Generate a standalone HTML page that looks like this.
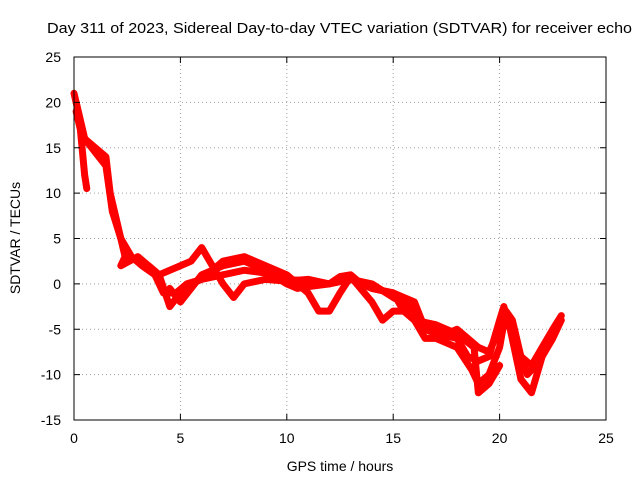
<!DOCTYPE html>
<html><head><meta charset="utf-8"><style>
body{margin:0;background:#fff}
svg{display:block;font-family:"Liberation Sans",sans-serif}
</style></head><body>
<svg id="c" width="640" height="480">
<text x="47" y="33" font-size="15" textLength="585" lengthAdjust="spacingAndGlyphs">Day 311 of 2023, Sidereal Day-to-day VTEC variation (SDTVAR) for receiver echo</text>
<text x="340" y="471" font-size="14" text-anchor="middle">GPS time / hours</text>
<text transform="translate(20,238) rotate(-90)" font-size="14" text-anchor="middle">SDTVAR / TECUs</text>
<g id="grid"></g><g id="series"></g><g id="axes"></g>
</svg>
<script>
const xTicks=[0,5,10,15,20,25];
const yTicks=[-15,-10,-5,0,5,10,15,20,25];
const trackA=[[0,21],[0.5,16],[1,14.5],[1.5,13],[1.8,8],[2.2,5],[2.7,3],[3.2,2],[3.8,1],[4.2,-1],[4.8,-1],[5.3,0],[6,0.5],[7,1],[8,1.5],[9,1.2],[10,0.5],[11,0.3],[12,0],[13,0.5],[14,0],[15,-1.5],[15.5,-2],[16,-3],[16.5,-4.5],[17,-5],[17.5,-5.5],[18,-5],[18.5,-6],[19,-7],[19.5,-7.5],[20,-5],[20.2,-3],[20.5,-4],[21,-8],[21.5,-9],[22,-7],[22.5,-5],[22.9,-3.5]];
const trackB=[[0.1,19],[0.3,17],[0.5,12],[0.6,10.5]];
const trackC=[[0.1,20],[0.5,16],[1,15],[1.5,14],[1.7,10],[2,7],[2.4,3],[2.2,2],[3,3],[4,1],[4.5,-2.5],[5,-1],[5.5,0],[6,0.5],[6.5,1.5],[7,2.5],[8,3],[9,2],[10,1],[11,-1],[11.5,-3],[12,-3],[12.5,-1],[13,0.8],[14,-2],[14.5,-4],[15,-3],[15.5,-3],[16,-4],[16.5,-6],[17,-6],[18,-7],[18.7,-9.5],[19,-11],[19.5,-10],[20,-7],[20.3,-3],[20.6,-4],[21,-8],[21.3,-10],[21.7,-9],[22.3,-6],[22.8,-4]];
const trackD=[[3.5,2],[4,1],[5,2],[5.5,2.5],[6,4],[6.5,2],[7,0],[7.5,-1.5],[8,0],[9,0.5],[10,0.3],[11,0.5],[12,0],[12.5,0.8],[13,1],[13.5,0],[14,-0.5],[15,-1],[16,-2],[16.5,-5],[17,-5.5],[18,-6],[18.5,-8],[19,-8.5],[19.5,-8],[20,-4],[20.2,-2.5],[20.5,-5],[21,-10.5],[21.5,-12],[22,-8],[22.5,-6],[22.9,-4]];
const trackE=[[4.5,-0.5],[5,-2],[5.5,-0.5],[6,1],[7,2],[8,2.5],[9,1.5],[10,0],[10.5,-0.5],[11,-0.3],[12,0],[13,0.5],[14,-0.5],[15,-1],[15.5,-3],[16,-4],[17,-4.5],[18,-5.5],[18.8,-7],[19,-12],[19.5,-11],[20,-9]];
const tracks=[trackA,trackB,trackC,trackD,trackE];
const L=74,R=606,T=57,B=420;
const sx=v=>L+(v-0)/(25-0)*(R-L);
const sy=v=>B-(v+15)/(40)*(B-T);
const NS='http://www.w3.org/2000/svg';
function mk(p,t,a){const e=document.createElementNS(NS,t);for(const k in a)e.setAttribute(k,a[k]);p.appendChild(e);return e;}
const g=document.getElementById('grid'),ax=document.getElementById('axes'),s=document.getElementById('series');
xTicks.forEach(v=>{const x=sx(v);
 if(v>0&&v<25){const l=mk(g,'line',{x1:x,x2:x,y1:T,y2:B,stroke:'#a0a0a0','stroke-dasharray':'1,3'});
 
 }
 mk(ax,'line',{x1:x,x2:x,y1:B,y2:B-6,stroke:'#000'});mk(ax,'line',{x1:x,x2:x,y1:T,y2:T+6,stroke:'#000'});
 const t=mk(ax,'text',{x:x,y:B+23,'font-size':14,'text-anchor':'middle'});t.textContent=v;
 
 });
yTicks.forEach(v=>{const y=sy(v);
 if(v>-15&&v<25){const l=mk(g,'line',{x1:L,x2:R,y1:y,y2:y,stroke:'#a0a0a0','stroke-dasharray':'1,3'});
 
 }
 mk(ax,'line',{x1:L,x2:L+6,y1:y,y2:y,stroke:'#000'});mk(ax,'line',{x1:R,x2:R-6,y1:y,y2:y,stroke:'#000'});
 const t=mk(ax,'text',{x:L-13,y:y+5,'font-size':14,'text-anchor':'end'});t.textContent=v;
 
 });
const fr=mk(ax,'rect',{x:L,y:T,width:R-L,height:B-T,fill:'none',stroke:'#000'});


tracks.forEach(tr=>{const p=mk(s,'polyline',{points:tr.map(d=>sx(d[0])+','+sy(d[1])).join(' '),fill:'none',stroke:'#f00','stroke-width':7,'stroke-linejoin':'round','stroke-linecap':'round'});
 
 });
</script>
</body></html>
